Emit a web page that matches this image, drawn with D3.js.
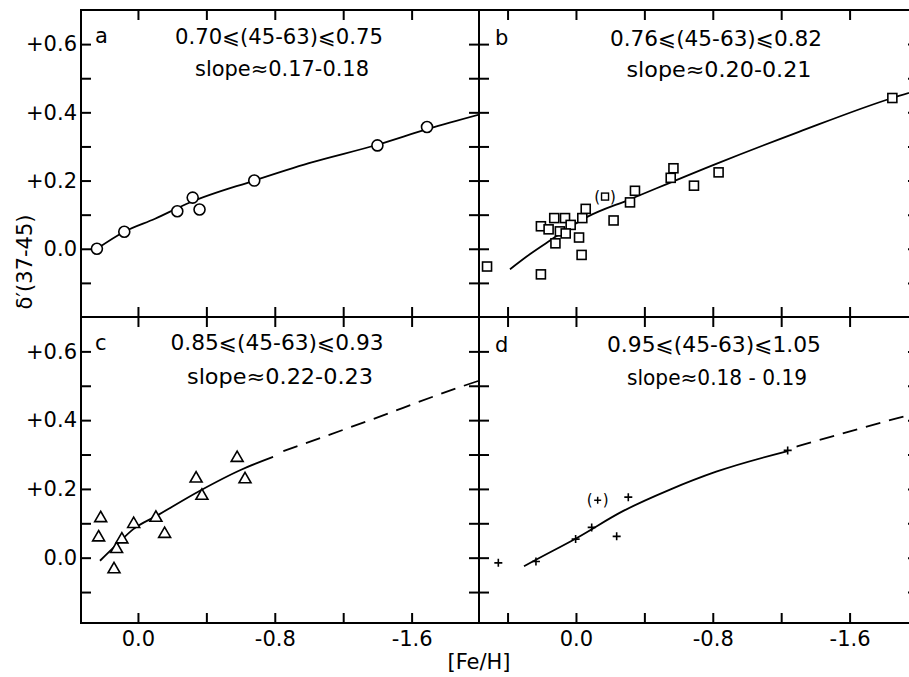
<!DOCTYPE html>
<html>
<head>
<meta charset="utf-8">
<script src="https://cdn.jsdelivr.net/npm/d3@7"></script>
<style>
body { margin: 0; background: #fff; }
svg { display: block; }
text { font-family: "DejaVu Sans", sans-serif; fill: #000; }
</style>
</head>
<body>
<div id="chart"></div>
<script>
// panel a (circles)
const fehA = [0.24, 0.08, -0.23, -0.32, -0.36, -0.68, -1.40, -1.69];
const deltaA = [0.00, 0.05, 0.11, 0.15, 0.115, 0.20, 0.303, 0.357];
const fitFehA = [0.24, 0.08, -0.10, -0.30, -0.68, -1.00, -1.40, -1.70, -2.00];
const fitDeltaA = [0.00, 0.05, 0.088, 0.135, 0.20, 0.251, 0.305, 0.352, 0.394];

// panel b (squares)
const fehB = [0.52, 0.205, 0.205, 0.16, 0.127, 0.064, 0.031, 0.094, 0.06, 0.12, -0.018,
  -0.033, -0.037, -0.057, -0.22, -0.316, -0.345, -0.554, -0.57, -0.69, -0.834, -1.85];
const deltaB = [-0.052, -0.075, 0.066, 0.057, 0.09, 0.09, 0.07, 0.051, 0.045, 0.016, 0.033,
  -0.018, 0.09, 0.117, 0.083, 0.136, 0.17, 0.208, 0.236, 0.185, 0.224, 0.442];
const extraB = [[-0.17, 0.153]];
const fitFehB = [0.386, 0.27, 0.152, -0.06, -0.316, -0.82, -1.30, -1.85, -2.05];
const fitDeltaB = [-0.06, -0.016, 0.024, 0.092, 0.145, 0.249, 0.342, 0.442, 0.472];

// panel c (triangles)
const fehC = [0.218, 0.23, 0.14, 0.125, 0.094, 0.025, -0.105, -0.156, -0.34, -0.374, -0.58, -0.626];
const deltaC = [0.115, 0.059, -0.034, 0.025, 0.053, 0.098, 0.116, 0.069, 0.23, 0.18, 0.29, 0.228];
const fitFehC = [0.222, 0.12, 0.027, -0.11, -0.36, -0.60, -0.79];
const fitDeltaC = [-0.009, 0.04, 0.083, 0.122, 0.194, 0.255, 0.293];
const dashFehC = [-0.85, -1.34, -1.87, -2.05];
const dashDeltaC = [0.31, 0.397, 0.494, 0.524];

// panel d (crosses)
const fehD = [0.454, 0.234, 0.002, -0.092, -0.238, -0.306, -1.238];
const deltaD = [-0.015, -0.011, 0.054, 0.088, 0.062, 0.176, 0.312];
const extraD = [[-0.127, 0.167]];
const fitFehD = [0.304, 0.234, 0.0, -0.277, -0.55, -0.82, -1.238];
const fitDeltaD = [-0.025, -0.006, 0.056, 0.136, 0.198, 0.25, 0.31];
const dashFehD = [-1.29, -1.875, -2.05];
const dashDeltaD = [0.323, 0.405, 0.428];

// ticks
const yTicks = [-0.1, 0.0, 0.1, 0.2, 0.3, 0.4, 0.5, 0.6];
const yLabelVals = [0.0, 0.2, 0.4, 0.6];
const yLabelText = ["0.0", "+0.2", "+0.4", "+0.6"];
const xTicksLeft = [0.0, -0.4, -0.8, -1.2, -1.6];
const xTicksRight = [0.4, 0.0, -0.4, -0.8, -1.2, -1.6];
const xLabelVals = [0.0, -0.8, -1.6];
const xLabelText = ["0.0", "-0.8", "-1.6"];

const rangeText = ["0.70⩽(45-63)⩽0.75", "0.76⩽(45-63)⩽0.82", "0.85⩽(45-63)⩽0.93", "0.95⩽(45-63)⩽1.05"];
const slopeText = ["slope≈0.17-0.18", "slope≈0.20-0.21", "slope≈0.22-0.23", "slope≈0.18 - 0.19"];
const panelLetters = ["a", "b", "c", "d"];

const width = 909, height = 677;
const L = 81, M = 479, R = 918, T = 10, S = 317, B = 623;

const svg = d3.select("#chart")
    .append("svg")
    .attr("width", width)
    .attr("height", height);

const xLeft = d3.scaleLinear().domain([0.333, -1.994]).range([L, M]);
const xRight = d3.scaleLinear().domain([0.567, -2.0]).range([M, R]);
const yTop = d3.scaleLinear().domain([-0.2, 0.7]).range([S, T]);
const yBot = d3.scaleLinear().domain([-0.19, 0.70]).range([B, S]);

const panels = [
    { x: xLeft, y: yTop, feh: fehA, delta: deltaA, fit: [fitFehA, fitDeltaA], mark: "circle",
      tx: 279, ty: [44, 76], tw: [208, 174], lx: 95, ly: 43 },
    { x: xRight, y: yTop, feh: fehB, delta: deltaB, fit: [fitFehB, fitDeltaB], mark: "square", extra: extraB,
      tx: 716, ty: [46, 77], tw: [212, 185], lx: 495, ly: 45 },
    { x: xLeft, y: yBot, feh: fehC, delta: deltaC, fit: [fitFehC, fitDeltaC], dash: [dashFehC, dashDeltaC], mark: "triangle",
      tx: 277, ty: [350, 384], tw: [213, 186], lx: 95, ly: 350 },
    { x: xRight, y: yBot, feh: fehD, delta: deltaD, fit: [fitFehD, fitDeltaD], dash: [dashFehD, dashDeltaD], mark: "cross", extra: extraD,
      tx: 714, ty: [352, 385], tw: [214, 180], lx: 495, ly: 352 }
];

function styleAxis(g) {
    g.select(".domain").remove();
    g.selectAll("line").attr("stroke", "#000").attr("stroke-width", 2);
    g.selectAll("text").attr("font-family", "DejaVu Sans").attr("font-size", 21).attr("fill", "#000");
}

function yFormat(v) {
    const i = yLabelVals.findIndex(d => Math.abs(d - v) < 1e-6);
    return i < 0 ? "" : yLabelText[i];
}
function xFormat(v) {
    const i = xLabelVals.findIndex(d => Math.abs(d - v) < 1e-6);
    return i < 0 ? "" : xLabelText[i];
}

panels.forEach((p, i) => {
    const x0 = p.x.range()[0], x1 = p.x.range()[1];
    const y0 = p.y.range()[1], y1 = p.y.range()[0];

    svg.append("clipPath").attr("id", "clip" + i)
        .append("rect")
        .attr("x", x0).attr("y", y0)
        .attr("width", x1 - x0).attr("height", y1 - y0);

    const g = svg.append("g").attr("clip-path", `url(#clip${i})`);

    const line = d3.line()
        .curve(d3.curveMonotoneX)
        .x(d => p.x(d[0]))
        .y(d => p.y(d[1]));

    g.append("path")
        .datum(p.fit[0].map((f, k) => [f, p.fit[1][k]]))
        .attr("d", line)
        .attr("fill", "none")
        .attr("stroke", "#000")
        .attr("stroke-width", 1.8);

    if (p.dash) {
        g.append("path")
            .datum(p.dash[0].map((f, k) => [f, p.dash[1][k]]))
            .attr("d", line)
            .attr("fill", "none")
            .attr("stroke", "#000")
            .attr("stroke-width", 1.8)
            .attr("stroke-dasharray", "15,9");
    }

    const pts = p.feh.map((f, k) => [f, p.delta[k]]);
    const marks = g.selectAll(".pt" + i)
        .data(pts)
        .enter()
        .append("g")
        .attr("transform", d => `translate(${p.x(d[0])},${p.y(d[1])})`);

    if (p.mark === "circle") {
        marks.append("circle").attr("r", 5.5);
    } else if (p.mark === "square") {
        marks.append("rect").attr("x", -4.5).attr("y", -4.5).attr("width", 9).attr("height", 9);
    } else if (p.mark === "triangle") {
        marks.append("path").attr("d", d3.symbol(d3.symbolTriangle, 62));
    } else {
        marks.append("path").attr("d", "M-4,0H4M0,-4V4");
    }
    marks.selectAll("circle,rect,path")
        .attr("fill", p.mark === "cross" ? "none" : "#fff")
        .attr("stroke", "#000")
        .attr("stroke-width", 1.6);

    if (p.extra) {
        const e = g.selectAll(".ex" + i)
            .data(p.extra)
            .enter()
            .append("g")
            .attr("transform", d => `translate(${p.x(d[0])},${p.y(d[1])})`);
        e.append("text").attr("x", -5).attr("y", 5).attr("font-size", 15).attr("text-anchor", "end").text("(");
        e.append("text").attr("x", 5).attr("y", 5).attr("font-size", 15).text(")");
        if (p.mark === "square") {
            e.append("rect").attr("x", -3.5).attr("y", -3.5).attr("width", 7).attr("height", 7)
                .attr("fill", "#fff").attr("stroke", "#000").attr("stroke-width", 1.4);
        } else {
            e.append("path").attr("d", "M-3.5,0H3.5M0,-3.5V3.5")
                .attr("stroke", "#000").attr("stroke-width", 1.5);
        }
    }

    // annotations
    svg.append("text")
        .attr("x", p.lx).attr("y", p.ly)
        .attr("font-size", 21)
        .text(panelLetters[i]);
    svg.append("text")
        .attr("x", p.tx).attr("y", p.ty[0])
        .attr("text-anchor", "middle")
        .attr("font-size", 21)
        .attr("textLength", p.tw[0])
        .attr("lengthAdjust", "spacingAndGlyphs")
        .text(rangeText[i]);
    svg.append("text")
        .attr("x", p.tx + 3).attr("y", p.ty[1])
        .attr("text-anchor", "middle")
        .attr("font-size", 21)
        .attr("textLength", p.tw[1])
        .attr("lengthAdjust", "spacingAndGlyphs")
        .text(slopeText[i]);
});

// frame lines
const frame = svg.append("g").attr("stroke", "#000").attr("stroke-width", 2);
[T, S, B].forEach(yy => frame.append("line").attr("x1", L - 1).attr("x2", width).attr("y1", yy).attr("y2", yy));
[L, M, R].forEach(xx => frame.append("line").attr("x1", xx).attr("x2", xx).attr("y1", T).attr("y2", B + 1));

// left axes with labels
[yTop, yBot].forEach(y => {
    svg.append("g")
        .attr("transform", `translate(${L},0)`)
        .call(d3.axisLeft(y).tickValues(yTicks).tickSizeInner(-10).tickSizeOuter(0).tickPadding(4).tickFormat(yFormat))
        .call(styleAxis);
    // shared middle axis, ticks cross
    svg.append("g")
        .attr("transform", `translate(${M + 10},0)`)
        .call(d3.axisLeft(y).tickValues(yTicks).tickSizeInner(20).tickSizeOuter(0).tickFormat(""))
        .call(styleAxis);
    svg.append("g")
        .attr("transform", `translate(${R},0)`)
        .call(d3.axisRight(y).tickValues(yTicks).tickSizeInner(-10).tickSizeOuter(0).tickFormat(""))
        .call(styleAxis);
});

[[xLeft, xTicksLeft], [xRight, xTicksRight]].forEach(([x, tv]) => {
    svg.append("g")
        .attr("transform", `translate(0,${T})`)
        .call(d3.axisTop(x).tickValues(tv).tickSizeInner(-10).tickSizeOuter(0).tickFormat(""))
        .call(styleAxis);
    svg.append("g")
        .attr("transform", `translate(0,${S - 10})`)
        .call(d3.axisBottom(x).tickValues(tv).tickSizeInner(20).tickSizeOuter(0).tickFormat(""))
        .call(styleAxis);
    svg.append("g")
        .attr("transform", `translate(0,${B})`)
        .call(d3.axisBottom(x).tickValues(tv).tickSizeInner(-10).tickSizeOuter(0).tickPadding(8).tickFormat(xFormat))
        .call(styleAxis);
});

// axis titles
svg.append("text")
    .attr("transform", "translate(32,262) rotate(-90)")
    .attr("text-anchor", "middle")
    .attr("font-size", 21)
    .text("δ′(37-45)");

svg.append("text")
    .attr("x", 479)
    .attr("y", 669)
    .attr("text-anchor", "middle")
    .attr("font-size", 21)
    .text("[Fe/H]");
</script>
</body>
</html>
